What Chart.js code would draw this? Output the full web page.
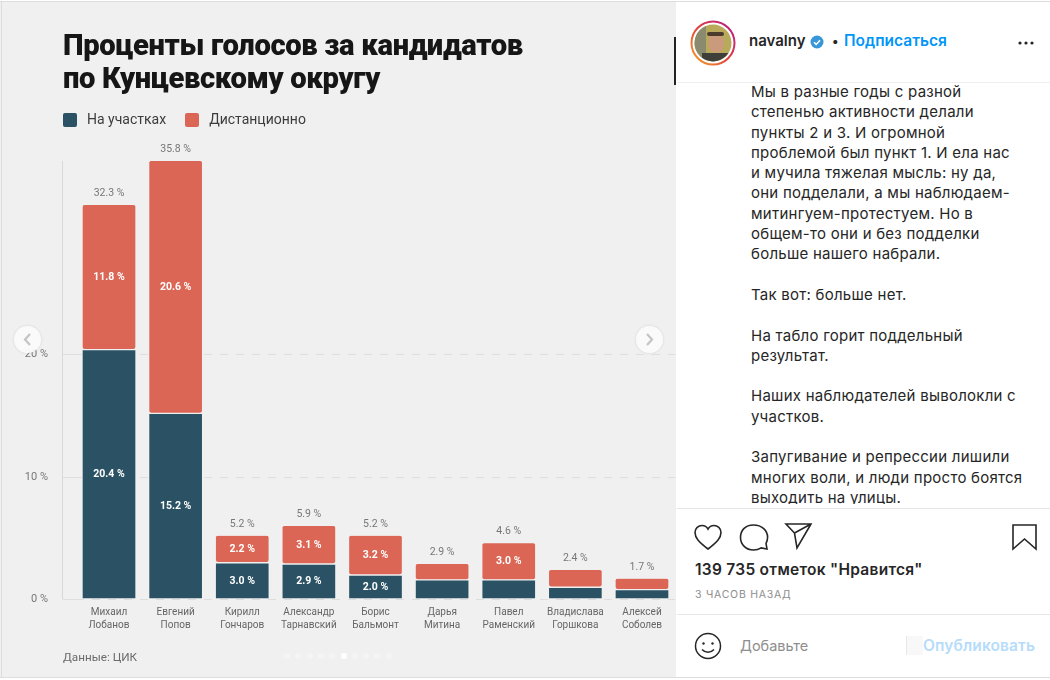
<!DOCTYPE html>
<html lang="ru">
<head>
<meta charset="utf-8">
<script src="https://cdn.jsdelivr.net/npm/chart.js@4"></script>
<style>
html,body{margin:0;padding:0;width:1050px;height:680px;overflow:hidden;background:#fff;font-family:Inter,Roboto,sans-serif}
.abs{position:absolute;white-space:nowrap}
#left{position:absolute;left:0;top:2px;width:676px;height:675px;background:#f0f0f0}
#chartBox{position:absolute;left:0;top:0;width:676px;height:680px}
#title{left:63px;top:29px;font:900 29.2px/33px Roboto,sans-serif;color:#161616;letter-spacing:-.35px}
#legend{left:63px;top:110px;display:flex;font:400 14px/18px Roboto,sans-serif;color:#3c3c3c}
#legend span{display:inline-block;width:14px;height:14px;border-radius:2px;margin:3px 10px 0 0}
#legend div{display:flex;margin-right:19px}
#source{left:63px;top:650px;font:400 11.7px/15px Roboto,sans-serif;color:#6b6b6b}
.arrow{position:absolute;top:326px;width:27px;height:27px;border-radius:50%;background:rgba(250,250,250,.95);box-shadow:0 0 3px rgba(0,0,0,.12)}
.dot{position:absolute;top:653px;width:6px;height:6px;border-radius:50%;background:#f6f6f6}
#right{position:absolute;left:677px;top:0;width:373px;height:680px;background:#fff}
#post{left:751px;top:82px;width:290px;height:422px;overflow:hidden;font:400 15px/20.3px Inter,sans-serif;color:#262626;white-space:pre-line;letter-spacing:.25px}
.line{position:absolute;height:1px;background:#e6e6e6}
</style>
</head>
<body>
<div id="left"></div>
<div id="chartBox"><canvas id="c" width="676" height="680"></canvas></div>
<div class="abs" id="title">Проценты голосов за кандидатов<br>по Кунцевскому округу</div>
<div class="abs" id="legend"></div>
<div class="abs" id="source">Данные: ЦИК</div>
<div class="abs" style="left:674px;top:37px;width:1.5px;height:48px;background:#222"></div>
<div class="abs" style="left:1px;top:2px;width:1px;height:675px;background:#ddd"></div>
<div class="arrow" style="left:14px"><svg width="27" height="27"><path d="M16 8l-5 5.5 5 5.5" fill="none" stroke="#c4c4c4" stroke-width="2.2"/></svg></div>
<div class="arrow" style="left:636px"><svg width="27" height="27"><path d="M11 8l5 5.5-5 5.5" fill="none" stroke="#c4c4c4" stroke-width="2.2"/></svg></div>
<div id="dots"></div>

<div id="right"></div>
<div class="line" style="left:677px;top:1px;width:373px;background:#ddd"></div>
<div class="line" style="left:0;top:1px;width:677px;background:#ddd"></div>
<div class="line" style="left:0;top:677px;width:1050px;background:#ddd"></div>
<div class="line" style="left:677px;top:82px;width:373px;background:#efefef"></div>
<div class="line" style="left:677px;top:508px;width:373px;"></div>
<div class="line" style="left:677px;top:614px;width:373px;"></div>

<svg class="abs" style="left:690px;top:20px" width="46" height="46">
 <defs>
  <linearGradient id="ig" x1="0" y1="1" x2="1" y2="0"><stop offset="0" stop-color="#f5a623"/><stop offset=".5" stop-color="#e0403f"/><stop offset="1" stop-color="#b5178c"/></linearGradient>
  <clipPath id="cp"><circle cx="23" cy="23" r="18.5"/></clipPath>
 </defs>
 <circle cx="23" cy="23" r="21.5" fill="none" stroke="url(#ig)" stroke-width="2"/>
 <g clip-path="url(#cp)">
  <rect width="46" height="46" fill="#b9a95a"/>
  <rect x="4" y="4" width="12" height="38" fill="#8a8a6e"/>
  <ellipse cx="26" cy="23" rx="8" ry="10" fill="#c99a7c"/>
  <rect x="17" y="12" width="17" height="4" rx="2" fill="#4b3b2c"/>
  <rect x="12" y="33" width="28" height="12" fill="#3f3f3a"/>
 </g>
</svg>
<div class="abs" style="left:749px;top:32px;font:600 15px/18px Inter,sans-serif;color:#262626">navalny</div>
<svg class="abs" style="left:810px;top:35px" width="14" height="14"><circle cx="7" cy="7" r="6.5" fill="#3897d8"/><path d="M4 7.200l2.200 2.200 3.800-4.200" fill="none" stroke="#fff" stroke-width="1.500"/></svg>
<div class="abs" style="left:832px;top:32px;font:600 15.5px/18px Inter,sans-serif;color:#0095f6"><span style="color:#262626;font-size:13px;margin-right:5.5px">•</span>Подписаться</div>
<svg class="abs" style="left:1016px;top:40px" width="20" height="6"><circle cx="4" cy="3" r="1.600" fill="#262626"/><circle cx="10" cy="3" r="1.600" fill="#262626"/><circle cx="16" cy="3" r="1.600" fill="#262626"/></svg>

<div class="abs" id="post">Мы в разные годы с разной
степенью активности делали
пункты 2 и 3. И огромной
проблемой был пункт 1. И ела нас
и мучила тяжелая мысль: ну да,
они подделали, а мы наблюдаем-
митингуем-протестуем. Но в
общем-то они и без подделки
больше нашего набрали.

Так вот: больше нет.

На табло горит поддельный
результат.

Наших наблюдателей выволокли с
участков.

Запугивание и репрессии лишили
многих воли, и люди просто боятся
выходить на улицы.</div>

<svg class="abs" style="left:690px;top:518px" width="350" height="36" fill="none" stroke="#262626" stroke-width="1.600">
 <path d="M18 31C9 24 5 20 5 14.500 5 10 8.500 7.500 12 7.500c2.700 0 4.800 1.400 6 3.600 1.200-2.200 3.300-3.600 6-3.600 3.500 0 7 2.500 7 7 0 5.500-4 9.500-13 16.500z"/>
 <path d="M76 25.500c1-1.900 1.600-3.900 1.600-6.200C77.600 12.500 72 7 63.500 7S50.500 12.500 50.500 19.500 56 32 63.500 32c3 0 5.500-.7 7.700-2.100L77 31z"/>
 <path d="M96 6h25l-14 24-2.500-15zM104.500 15L121 6"/>
 <path d="M323 7h23v24l-11.500-10L323 31z"/>
</svg>
<div class="abs" style="left:695px;top:561px;font:600 15.500px/18px Inter,sans-serif;color:#262626;letter-spacing:.27px">139 735 отметок "Нравится"</div>
<div class="abs" style="left:695px;top:588px;font:400 10.500px/14px Inter,sans-serif;color:#8e8e8e;letter-spacing:.75px">3 ЧАСОВ НАЗАД</div>
<svg class="abs" style="left:694px;top:632px" width="28" height="28" fill="none" stroke="#262626" stroke-width="1.500"><circle cx="14" cy="14" r="12.500"/><circle cx="9.500" cy="11.500" r="1.200" fill="#262626" stroke="none"/><circle cx="18.500" cy="11.500" r="1.200" fill="#262626" stroke="none"/><path d="M8 17.500c3 3.500 9 3.500 12 0"/></svg>
<div class="abs" style="left:740px;top:637px;font:400 14.500px/18px Inter,sans-serif;color:#8e8e8e">Добавьте</div>
<div class="abs" style="left:906px;top:636px;width:16px;height:19px;background:#f8f8f8;border-left:1px solid #e8e8e8"></div>
<div class="abs" style="left:923px;top:637px;font:600 15.500px/18px Inter,sans-serif;color:#b6dcfb;letter-spacing:.12px">Опубликовать</div>

<script>
const categories = [["Михаил","Лобанов"],["Евгений","Попов"],["Кирилл","Гончаров"],["Александр","Тарнавский"],["Борис","Бальмонт"],["Дарья","Митина"],["Павел","Раменский"],["Владислава","Горшкова"],["Алексей","Соболев"]];
const atStations = [20.4,15.2,3.0,2.9,2.0,1.6,1.6,1.0,0.8];
const remote     = [11.8,20.6,2.2,3.1,3.2,1.3,3.0,1.4,0.9];
const totals     = [32.3,35.8,5.2,5.9,5.2,2.9,4.6,2.4,1.7];
const yTicks     = [0,10,20];
const seriesNames = ["На участках","Дистанционно"];
const seriesColors = ["#2b5264","#dc6655"];

const BG = "#f0f0f0", AXIS_X = 62;

document.getElementById("legend").innerHTML = seriesNames.map((n,i)=>`<div><span style="background:${seriesColors[i]}"></span>${n}</div>`).join("");
let dh=""; for(let i=0;i<10;i++){dh+=`<div class="dot" style="left:${284+i*11.3}px;${i==5?'background:#fff':'opacity:.75'}"></div>`;}
document.getElementById("dots").innerHTML=dh;

const labelsPlugin = {
  id:"barLabels",
  afterDatasetsDraw(chart){
    const ctx=chart.ctx; ctx.save(); ctx.textAlign="center"; ctx.textBaseline="middle";
    ctx.font="700 10.5px Roboto, sans-serif"; ctx.fillStyle="#fff";
    chart.data.datasets.forEach((ds,d)=>{
      chart.getDatasetMeta(d).data.forEach((bar,i)=>{
        if(ds.data[i]>=2) ctx.fillText(ds.data[i].toFixed(1)+" %",bar.x,(bar.y+bar.base)/2);
      });
    });
    ctx.font="400 10.5px Roboto, sans-serif"; ctx.fillStyle="#777";
    chart.getDatasetMeta(1).data.forEach((bar,i)=>ctx.fillText(totals[i].toFixed(1)+" %",bar.x,bar.y-11.5));
    const y=chart.scales.y;
    ctx.strokeStyle="#d8d8d8"; ctx.lineWidth=1; ctx.beginPath();
    ctx.moveTo(AXIS_X+.5,y.getPixelForValue(totals[1])); ctx.lineTo(AXIS_X+.5,y.getPixelForValue(0)); ctx.stroke();
    ctx.restore();
  }
};

new Chart(document.getElementById("c"),{
  type:"bar",
  data:{labels:categories,datasets:[
    {label:seriesNames[0],data:atStations,backgroundColor:seriesColors[0],borderColor:BG,borderWidth:1,borderSkipped:false,borderRadius:3,barThickness:54},
    {label:seriesNames[1],data:remote,backgroundColor:seriesColors[1],borderColor:BG,borderWidth:{top:0,left:1,right:1,bottom:1},borderSkipped:false,borderRadius:3,barThickness:54}
  ]},
  options:{
    responsive:false,animation:false,
    layout:{padding:{top:158.5,left:0,right:.7,bottom:0}},
    plugins:{legend:{display:false},tooltip:{enabled:false},title:{display:false}},
    scales:{
      x:{stacked:true,grid:{display:false,drawTicks:false},border:{display:false},
         afterFit(s){s.height=80.5;},
         ticks:{color:"#666",font:{family:"Roboto, sans-serif",size:10,lineHeight:1.27},padding:7,maxRotation:0,autoSkip:false}},
      y:{stacked:true,min:0,max:36,
         afterFit(s){s.width=75.7;},
         afterBuildTicks(s){s.ticks=yTicks.map(v=>({value:v}));},
         border:{display:false,dash:[8,8]},
         grid:{color:"#dedede",tickLength:12.7,drawTicks:true},
         ticks:{color:"#777",font:{family:"Roboto, sans-serif",size:11},padding:15,callback:v=>v+" %"}}
    }
  },
  plugins:[labelsPlugin]
});
</script>
</body>
</html>
